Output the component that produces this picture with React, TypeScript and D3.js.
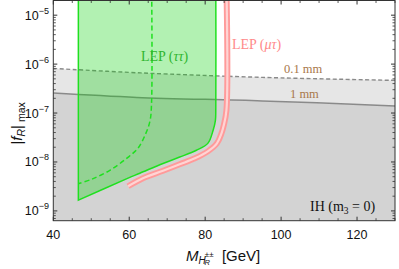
import React from "react";
import * as d3 from "d3";

// ---- data ----
const xTicks = [40, 60, 80, 100, 120];
const yTickExps = [-5, -6, -7, -8, -9];

// decay-length contours
const line1mmM = [40, 62, 95, 130];
const line1mmF = [2.56e-7, 2.09e-7, 1.77e-7, 1.4e-7];
const line01mmM = [40, 63, 95, 130];
const line01mmF = [8.17e-7, 6.61e-7, 5.36e-7, 4.65e-7];

// LEP (tau tau) region boundary (solid)
const greenM = [46.6, 46.6, 59.7, 62.8, 68.9, 73.3, 77.7, 80.7, 82.1, 82.7, 82.8, 82.8];
const greenF = [4e-5, 1.66e-9, 4.68e-9, 5.89e-9, 9.33e-9, 1.26e-8, 1.74e-8, 2.4e-8, 4.47e-8, 7.08e-8, 1.26e-7, 4e-5];

// LEP (tau tau) dashed
const dashM = [65.9, 65.9, 65.5, 64.4, 62.3, 59.4, 54.9, 50.2, 46.6];
const dashF = [4e-5, 1.82e-7, 7.08e-8, 3.89e-8, 1.91e-8, 1.2e-8, 6.76e-9, 4.47e-9, 3.59e-9];

// LEP (mu tau) band
const pinkM = [85.6, 85.6, 84.9, 84.3, 83.1, 80.7, 77.3, 73.3, 68.9, 63.6, 59.7];
const pinkF = [4e-5, 1.14e-7, 5.61e-8, 3.85e-8, 2.41e-8, 1.65e-8, 1.19e-8, 8.97e-9, 6.61e-9, 4.65e-9, 3.19e-9];

const W = 399;
const H = 269;
const L = 53.3, R = 395, T = 0.5, B = 220.7;

export default function App() {
  const x = d3.scaleLinear().domain([40, 130]).range([L, R]);
  const y = d3.scaleLog().domain([Math.pow(10, -9.2), Math.pow(10, -4.7)]).range([B, T]);

  const pts = (ms: number[], fs: number[]) => ms.map((m, i) => [x(m), y(fs[i])] as [number, number]);

  const lin = d3.line<[number, number]>();
  const cr = d3.line<[number, number]>().curve(d3.curveCatmullRom.alpha(0.5));

  const p1 = pts(line1mmM, line1mmF);
  const p01 = pts(line01mmM, line01mmF);
  const darkArea = cr(p1) + `L${R},${B}L${L},${B}Z`;
  const lightArea = cr(p01) + "L" + [...p1].reverse().map((p) => p.join(",")).join("L") + "Z";

  const gp = pts(greenM, greenF);
  const greenPath = lin(gp.slice(0, 2))! + (cr(gp.slice(1)) as string).replace(/^M/, "L") + "Z";
  const greenOutline = lin(gp.slice(0, 2))! + (cr(gp.slice(1)) as string).replace(/^M/, "L");
  const dashPath = cr(pts(dashM, dashF))!;
  const pinkPath = cr(pts(pinkM, pinkF))!;

  const minorX = d3.range(40, 131, 5).filter((v) => v % 20 !== 0);
  const minorY: number[] = [];
  for (let e = -10; e <= -4; e++) for (let k = 2; k <= 9; k++) {
    const v = k * Math.pow(10, e);
    if (v > Math.pow(10, -9.2) && v < Math.pow(10, -4.7)) minorY.push(v);
  }

  const frameCol = "#333";
  const sans = "'Liberation Sans', Arial, sans-serif";
  const serif = "'Liberation Serif', 'Times New Roman', serif";

  return (
    <svg width={W} height={H} style={{ position: "absolute", left: 0, top: 0, background: "#fff" }}>
      <defs>
        <clipPath id="plot">
          <rect x={L} y={T} width={R - L} height={B - T} />
        </clipPath>
      </defs>
      <g clipPath="url(#plot)">
        <path d={lightArea} fill="#e6e6e6" />
        <path d={darkArea} fill="#d3d3d3" />
        <path d={cr(p01)!} fill="none" stroke="#8a8a8a" strokeWidth={1.4} strokeDasharray="4,2.5" />
        <path d={cr(p1)!} fill="none" stroke="#8a8a8a" strokeWidth={1.5} />
        <path d={greenPath} fill="rgb(0,210,0)" fillOpacity={0.3} />
        <path d={greenOutline} fill="none" stroke="#1fe01f" strokeWidth={1.5} />
        <path d={dashPath} fill="none" stroke="#1fe01f" strokeWidth={1.5} strokeDasharray="5,3" />
        <path d={pinkPath} fill="none" stroke="#ff9a9a" strokeWidth={6} strokeLinejoin="round" />
        <path d={pinkPath} fill="none" stroke="#ffd4d4" strokeWidth={2.2} strokeLinejoin="round" />
      </g>

      {/* frame */}
      <rect x={L} y={T} width={R - L} height={B - T} fill="none" stroke={frameCol} strokeWidth={1} />

      {/* x ticks */}
      {xTicks.map((v) => (
        <g key={"xt" + v}>
          <line x1={x(v)} x2={x(v)} y1={B} y2={B - 4} stroke={frameCol} />
          <line x1={x(v)} x2={x(v)} y1={T} y2={T + 4} stroke={frameCol} />
          <text x={x(v)} y={238.5} textAnchor="middle" fontFamily={sans} fontSize={12.5} fill="#111">{v}</text>
        </g>
      ))}
      {minorX.map((v) => (
        <g key={"xm" + v}>
          <line x1={x(v)} x2={x(v)} y1={B} y2={B - 2.5} stroke={frameCol} strokeWidth={0.8} />
          <line x1={x(v)} x2={x(v)} y1={T} y2={T + 2.5} stroke={frameCol} strokeWidth={0.8} />
        </g>
      ))}

      {/* y ticks */}
      {yTickExps.map((e) => {
        const yy = y(Math.pow(10, e));
        return (
          <g key={"yt" + e}>
            <line x1={L} x2={L + 4} y1={yy} y2={yy} stroke={frameCol} />
            <line x1={R} x2={R - 4} y1={yy} y2={yy} stroke={frameCol} />
            <text x={49} y={yy + 4.5} textAnchor="end" fontFamily={sans} fontSize={12.5} fill="#111">
              10<tspan dy={-6} fontSize={9}>{"\u2212" + Math.abs(e)}</tspan>
            </text>
          </g>
        );
      })}
      {minorY.map((v, i) => (
        <g key={"ym" + i}>
          <line x1={L} x2={L + 2.5} y1={y(v)} y2={y(v)} stroke={frameCol} strokeWidth={0.8} />
          <line x1={R} x2={R - 2.5} y1={y(v)} y2={y(v)} stroke={frameCol} strokeWidth={0.8} />
        </g>
      ))}

      {/* annotations */}
      <text x={141} y={61} fontFamily={serif} fontSize={14} fill="#2fb52f">
        LEP (<tspan fontStyle="italic">ττ</tspan>)
      </text>
      <text x={232} y={49} fontFamily={serif} fontSize={14} fill="#ff8a8a">
        LEP (<tspan fontStyle="italic">μτ</tspan>)
      </text>
      <text x={284} y={73} fontFamily={serif} fontSize={12.5} fill="#a8784a">0.1 mm</text>
      <text x={290} y={98} fontFamily={serif} fontSize={12.5} fill="#a8784a">1 mm</text>
      <text x={310} y={211} fontFamily={serif} fontSize={14} fill="#111">
        IH (m<tspan fontSize={9.5} dy={3}>3</tspan><tspan dy={-3}> = 0)</tspan>
      </text>

      {/* x axis label */}
      <text x={186} y={261} fontFamily={sans} fontSize={15} fill="#111">
        <tspan fontStyle="italic">M</tspan>
        <tspan fontStyle="italic" fontSize={10} dy={3}>H</tspan>
        <tspan fontSize={8} dy={-7} dx={-1}>±±</tspan>
        <tspan fontStyle="italic" fontSize={7.5} dx={-9} dy={8}>R</tspan>
        <tspan dx={12} dy={-4}>[GeV]</tspan>
      </text>

      {/* y axis label */}
      <text transform={`translate(22,${(T + B) / 2 + 34}) rotate(-90)`} fontFamily={sans} fontSize={15} fill="#111">
        |<tspan fontStyle="italic">f</tspan>
        <tspan fontStyle="italic" fontSize={10.5} dy={3}>R</tspan>
        <tspan dy={-3}>|</tspan>
        <tspan fontSize={10.5} dy={3}> max</tspan>
      </text>
    </svg>
  );
}
